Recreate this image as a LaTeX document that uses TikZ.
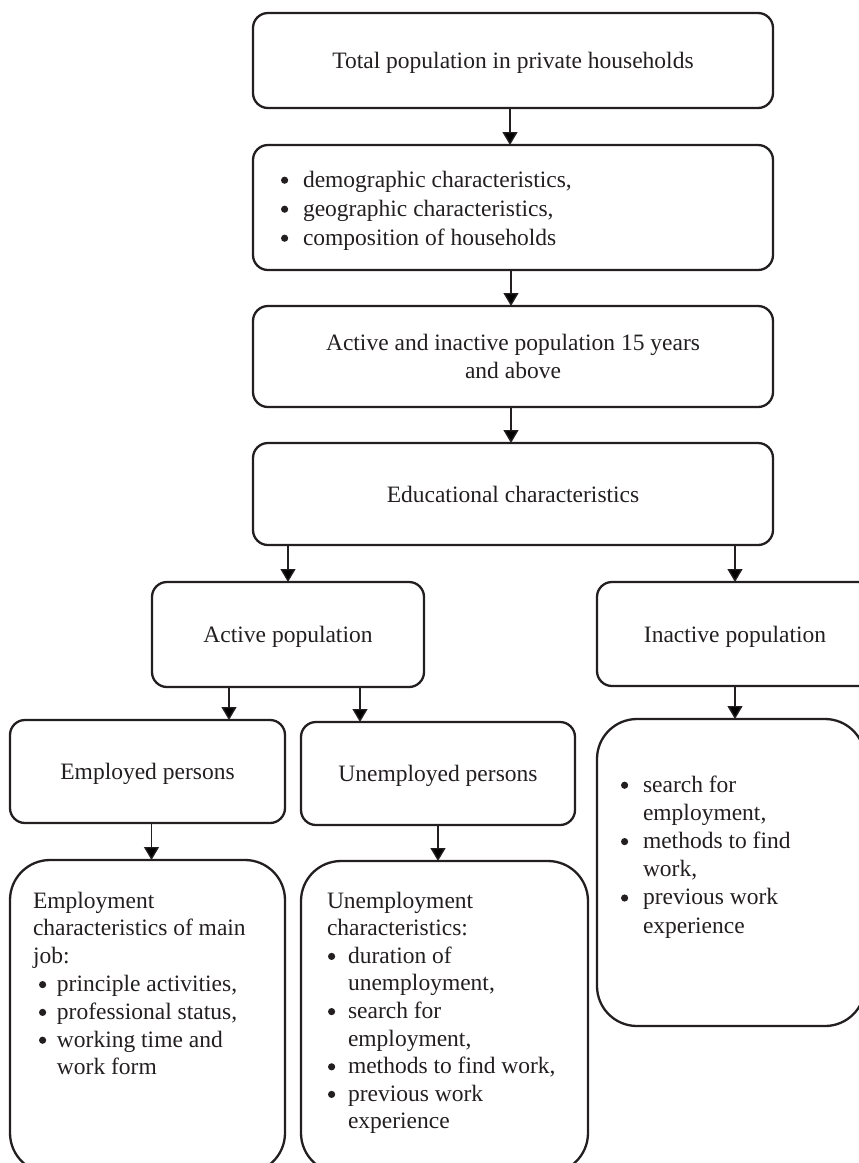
\documentclass[tikz,border=0pt]{standalone}
\usepackage{fontspec}
\setmainfont{Liberation Serif}
\usetikzlibrary{arrows.meta}
\definecolor{ink}{HTML}{231F20}
\newcommand{\bdot}{\tikz[baseline=0pt]\path[fill=ink,draw=none] (3.9pt,6.8pt) circle[radius=3.6pt];}
\newcommand{\bl}[1]{\makebox[#1][l]{\bdot}}
% #1 width, #2 height, #3 top gap, #4 left indent, #5 line spacing, #6 text
\newcommand{\tbox}[6]{\parbox[c][#2][t]{#1}{\leftskip=#4\relax\parindent=0pt\baselineskip=#5\relax\vspace*{#3}\rule{0pt}{20pt}#6\par}}
\tikzset{
  box/.style={draw=ink, line width=2.3pt, rounded corners=15pt, inner sep=0pt, outer sep=0pt,
    font=\fontsize{23.5}{28}\selectfont, text=ink},
  onebox/.style={box, text height=16pt, text depth=0pt},
  bigbox/.style={box, rounded corners=40pt},
  arr/.style={draw=ink, line width=1.4pt, -{Triangle[width=15pt,length=13pt]}}
}
\begin{document}
\begin{tikzpicture}[x=1pt,y=1pt]
\useasboundingbox (0,-1163) rectangle (859,0);
\clip (0,-1163) rectangle (859,0);

\node[onebox, minimum width=520pt, minimum height=95pt] (b1) at (513,-60.5)
  {Total population in private households};
\node[box] (b2) at (513,-207.5)
  {\tbox{520pt}{125pt}{22pt}{28pt}{29pt}{\bl{22pt}demographic characteristics,\\
   \bl{22pt}geographic characteristics,\\
   \bl{22pt}composition of households}};
\node[box, minimum width=520pt, minimum height=101pt, align=center] (b3) at (513,-356.5)
  {Active and inactive population 15 years\\and above};
\node[onebox, minimum width=520pt, minimum height=102pt] (b4) at (513,-494)
  {Educational characteristics};
\node[onebox, minimum width=272pt, minimum height=105pt] (act) at (288,-634.5)
  {Active population};
\node[onebox, minimum width=276pt, minimum height=104pt] (ina) at (735,-634)
  {Inactive population};
\node[onebox, minimum width=275pt, minimum height=103pt] (emp) at (147.5,-771.5)
  {Employed persons};
\node[onebox, minimum width=274pt, minimum height=103pt] (une) at (438,-773.5)
  {Unemployed persons};

\node[bigbox] (empc) at (147.5,-1016.5)
  {\tbox{275pt}{313pt}{28pt}{23pt}{27.8pt}{Employment\\
   characteristics of main\\
   job:\\
   \hspace*{6pt}\bl{18pt}principle activities,\\
   \hspace*{6pt}\bl{18pt}professional status,\\
   \hspace*{6pt}\bl{18pt}working time and\\
   \hspace*{24pt}work form}};
\node[bigbox] (unec) at (444.5,-1017)
  {\tbox{287pt}{312pt}{27pt}{26pt}{27.6pt}{Unemployment\\
   characteristics:\\
   \hspace*{1pt}\bl{20pt}duration of\\
   \hspace*{21pt}unemployment,\\
   \hspace*{1pt}\bl{20pt}search for\\
   \hspace*{21pt}employment,\\
   \hspace*{1pt}\bl{20pt}methods to find work,\\
   \hspace*{1pt}\bl{20pt}previous work\\
   \hspace*{21pt}experience}};
\node[bigbox] (inac) at (731,-872.5)
  {\tbox{268pt}{307pt}{53pt}{24pt}{28.2pt}{\bl{22pt}search for\\
   \hspace*{22pt}employment,\\
   \bl{22pt}methods to find\\
   \hspace*{22pt}work,\\
   \bl{22pt}previous work\\
   \hspace*{22pt}experience}};

\draw[arr] ([xshift=-3pt]b1.south) -- ([xshift=-3pt]b2.north);
\draw[arr] ([xshift=-2pt]b2.south) -- ([xshift=-2pt]b3.north);
\draw[arr] ([xshift=-2pt]b3.south) -- ([xshift=-2pt]b4.north);
\draw[arr] (b4.south -| act.north) -- (act.north);
\draw[arr] (b4.south -| ina.north) -- (ina.north);
\draw[arr] ([xshift=-59pt]act.south) coordinate (p1) -- (p1 |- emp.north);
\draw[arr] ([xshift=72pt]act.south) coordinate (p2) -- (p2 |- une.north);
\draw[arr] ([xshift=4pt]emp.south) coordinate (p3) -- (p3 |- empc.north);
\draw[arr] (une.south) -- (une.south |- unec.north);
\draw[arr] (ina.south) -- (ina.south |- inac.north);
\end{tikzpicture}
\end{document}
